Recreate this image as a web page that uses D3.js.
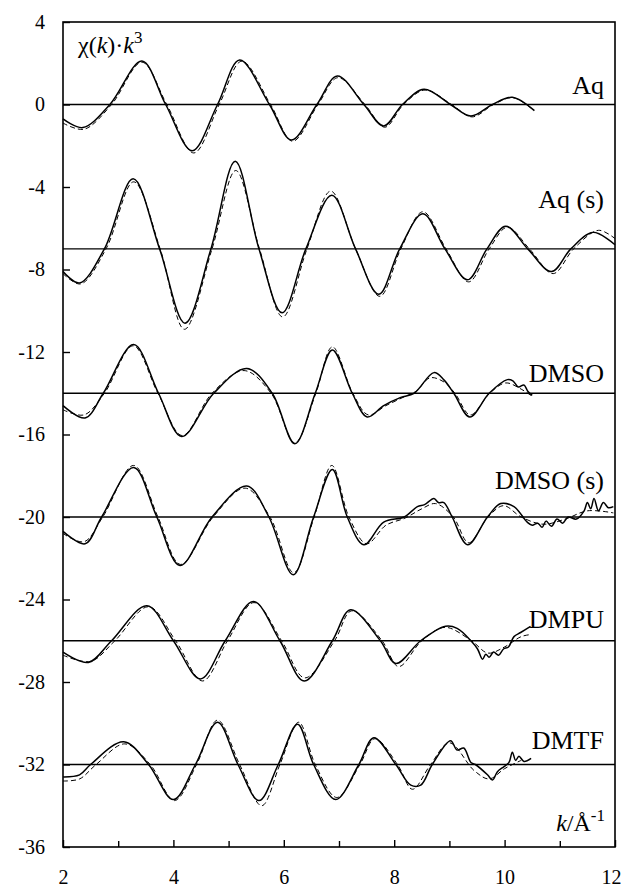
<!DOCTYPE html>
<html>
<head>
<meta charset="utf-8">
<script src="https://cdnjs.cloudflare.com/ajax/libs/d3/7.8.5/d3.min.js"></script>
<style>
  body { margin: 0; background: #fff; }
  svg text { font-family: "Liberation Serif", "DejaVu Serif", serif; fill: #000; }
</style>
</head>
<body>
<div class="chart"></div>
<script>
var names = ["Aq", "Aq (s)", "DMSO", "DMSO (s)", "DMPU", "DMTF"];
var baselines = [0, -7, -14, -20, -26, -32];
var xTicks = [2, 4, 6, 8, 10, 12];
var xMinorTicks = [3, 5, 7, 9, 11];
var yTicks = [4, 0, -4, -8, -12, -16, -20, -24, -28, -32, -36];

var aqExp = [[2.0,-0.7],[2.36,-1.12],[2.85,0],[3.43,2.11],[3.86,0],[4.34,-2.24],[4.8,0],[5.2,2.16],[5.74,0],[6.14,-1.72],[6.6,0],[6.97,1.38],[7.45,0],[7.81,-1.04],[8.15,0],[8.54,0.74],[9.02,0],[9.39,-0.56],[9.78,0],[10.14,0.35],[10.54,-0.3]];
var aqFit = [[2.0,-0.9],[2.38,-1.2],[2.88,0],[3.43,2.05],[3.88,0],[4.37,-2.35],[4.83,0],[5.24,2.1],[5.76,0],[6.16,-1.78],[6.62,0],[6.98,1.3],[7.47,0],[7.83,-1.1],[8.17,0],[8.56,0.7],[9.04,0],[9.41,-0.6],[9.8,0],[10.15,0.33],[10.5,-0.22]];

var aqsExp = [[2.0,-8.1],[2.3,-8.65],[2.75,-7],[3.27,-3.6],[3.75,-7],[4.21,-10.6],[4.68,-7],[5.12,-2.75],[5.55,-7],[5.97,-10.1],[6.4,-7],[6.87,-4.4],[7.3,-7],[7.72,-9.2],[8.1,-7],[8.52,-5.3],[8.92,-7],[9.33,-8.5],[9.68,-7],[10.02,-5.9],[10.42,-7],[10.85,-8.1],[11.2,-7],[11.6,-6.2],[12.0,-6.8]];
var aqsFit = [[2.0,-8.2],[2.32,-8.7],[2.78,-7],[3.28,-3.75],[3.76,-7],[4.2,-10.9],[4.7,-7],[5.13,-3.2],[5.56,-7],[5.98,-10.3],[6.42,-7],[6.85,-4.2],[7.3,-7],[7.74,-9.3],[8.12,-7],[8.52,-5.2],[8.94,-7],[9.35,-8.6],[9.72,-7],[10.05,-5.95],[10.45,-7],[10.88,-8.2],[11.25,-7],[11.7,-6.1],[12.0,-6.5]];

var dmsoExp = [[2.0,-14.6],[2.4,-15.2],[2.73,-14],[3.28,-11.64],[3.73,-14],[4.15,-16.1],[4.73,-14],[5.33,-12.8],[5.79,-14],[6.2,-16.45],[6.57,-14],[6.88,-11.9],[7.24,-14],[7.51,-15.15],[7.81,-14.6],[8.12,-14.2],[8.36,-14],[8.72,-13.0],[8.9,-13.35],[9.08,-14],[9.37,-15.15],[9.72,-14],[10.05,-13.34],[10.15,-13.4],[10.25,-13.7],[10.35,-13.6],[10.42,-13.9],[10.5,-14.1]];
var dmsoFit = [[2.0,-14.8],[2.38,-15.05],[2.75,-14],[3.27,-11.7],[3.72,-14],[4.16,-16.05],[4.7,-14],[5.28,-12.9],[5.77,-14],[6.2,-16.4],[6.58,-14],[6.88,-11.75],[7.25,-14],[7.53,-15.05],[7.85,-14.6],[8.2,-14.15],[8.4,-13.9],[8.65,-13.25],[8.9,-13.45],[9.1,-14],[9.38,-15.05],[9.73,-14],[10.02,-13.5],[10.3,-13.8],[10.5,-14.15]];

var dmsosExp = [[2.0,-20.7],[2.4,-21.3],[2.7,-20],[3.28,-17.6],[3.7,-20],[4.12,-22.35],[4.7,-20],[5.33,-18.5],[5.73,-20],[6.17,-22.8],[6.54,-20],[6.88,-17.7],[7.15,-20],[7.45,-21.35],[7.81,-20.25],[8.18,-20.0],[8.42,-19.5],[8.55,-19.4],[8.72,-19.1],[8.8,-19.3],[8.9,-19.3],[9.05,-20],[9.33,-21.35],[9.69,-20],[9.93,-19.35],[10.17,-19.5],[10.41,-20.25],[10.5,-20.4],[10.6,-20.3],[10.68,-20.5],[10.75,-20.2],[10.85,-20.45],[10.95,-20.1],[11.05,-20.3],[11.15,-20.0],[11.3,-20.1],[11.44,-19.7],[11.5,-19.3],[11.56,-19.6],[11.62,-19.1],[11.7,-19.7],[11.79,-19.3],[11.88,-19.55],[11.97,-19.5]];
var dmsosFit = [[2.0,-20.8],[2.38,-21.2],[2.72,-20],[3.28,-17.5],[3.72,-20],[4.13,-22.3],[4.72,-20],[5.3,-18.6],[5.75,-20],[6.18,-22.7],[6.55,-20],[6.87,-17.5],[7.18,-20],[7.5,-21.3],[7.85,-20.4],[8.2,-20.05],[8.5,-19.6],[8.75,-19.35],[9.07,-20],[9.35,-21.25],[9.7,-20],[9.98,-19.45],[10.3,-20.0],[10.7,-20.35],[11.1,-20.1],[11.5,-19.7],[11.97,-19.8]];

var dmpuExp = [[2.0,-26.55],[2.46,-27.05],[2.88,-26],[3.52,-24.3],[4.0,-26],[4.49,-27.85],[4.94,-26],[5.45,-24.1],[5.93,-26],[6.37,-27.95],[6.88,-26],[7.21,-24.5],[7.75,-26],[8.03,-27.1],[8.48,-26],[8.93,-25.3],[9.14,-25.4],[9.39,-26],[9.51,-26.4],[9.6,-26.9],[9.66,-26.65],[9.72,-26.8],[9.8,-26.55],[9.89,-26.7],[9.98,-26.4],[10.07,-26.3],[10.17,-25.8],[10.29,-25.6],[10.47,-25.3]];
var dmpuFit = [[2.0,-26.7],[2.5,-27.0],[2.94,-26],[3.55,-24.35],[4.04,-26],[4.53,-27.95],[4.98,-26],[5.46,-24.15],[5.96,-26],[6.38,-27.8],[6.92,-26],[7.23,-24.55],[7.78,-26],[8.08,-27.25],[8.5,-26],[8.92,-25.35],[9.4,-26],[9.7,-26.6],[10.0,-26.3],[10.3,-25.8],[10.47,-25.7]];

var dmtfExp = [[2.0,-32.6],[2.3,-32.5],[2.5,-32.0],[3.1,-30.9],[3.55,-32],[4.0,-33.7],[4.4,-32],[4.8,-29.95],[5.17,-32],[5.55,-33.75],[5.9,-32],[6.25,-30.05],[6.54,-32],[6.94,-33.7],[7.36,-32],[7.63,-30.7],[8.03,-32],[8.3,-33.0],[8.48,-33.0],[8.69,-32],[9.02,-30.85],[9.14,-31.3],[9.26,-31.2],[9.39,-31.9],[9.47,-32],[9.69,-32.5],[9.78,-32.75],[9.87,-32.35],[9.99,-32.1],[10.08,-31.9],[10.14,-31.4],[10.2,-31.8],[10.26,-31.6],[10.35,-31.85],[10.48,-31.7]];
var dmtfFit = [[2.0,-32.8],[2.3,-32.7],[2.6,-32],[3.12,-31.0],[3.58,-32],[4.02,-33.75],[4.42,-32],[4.8,-29.85],[5.2,-32],[5.6,-34.0],[5.93,-32],[6.27,-29.95],[6.57,-32],[6.96,-33.6],[7.38,-32],[7.65,-30.75],[8.06,-32],[8.33,-33.2],[8.66,-32],[9.0,-30.95],[9.45,-32.3],[9.72,-32.7],[10.0,-32.2],[10.3,-31.8]];

var expSeries = [aqExp, aqsExp, dmsoExp, dmsosExp, dmpuExp, dmtfExp];
var fitSeries = [aqFit, aqsFit, dmsoFit, dmsosFit, dmpuFit, dmtfFit];

// chart setup
var svgWidth = 621;
var svgHeight = 890;
var margin = {top: 22, right: 6, bottom: 43, left: 63};
var width = svgWidth - margin.left - margin.right;
var height = svgHeight - margin.top - margin.bottom;

var svg = d3.select(".chart")
    .append("svg")
    .attr("width", svgWidth)
    .attr("height", svgHeight)
    .append("g")
    .attr("transform", "translate(" + margin.left + "," + margin.top + ")");

var xScale = d3.scaleLinear().domain([2, 12]).range([0, width]);
var yScale = d3.scaleLinear().domain([-36, 4]).range([height, 0]);

// baselines
svg.selectAll(".base")
    .data(baselines)
    .enter()
    .append("line")
    .attr("x1", 0)
    .attr("x2", width)
    .attr("y1", function(d) { return yScale(d); })
    .attr("y2", function(d) { return yScale(d); })
    .style("stroke", "#000")
    .style("stroke-width", 1.4);

var line = d3.line()
    .x(function(d) { return xScale(d[0]); })
    .y(function(d) { return yScale(d[1]); })
    .curve(d3.curveCatmullRom.alpha(0.5));

svg.selectAll(".fit")
    .data(fitSeries)
    .enter()
    .append("path")
    .attr("d", line)
    .style("fill", "none")
    .style("stroke", "#000")
    .style("stroke-width", 1)
    .style("stroke-dasharray", "5,3");

svg.selectAll(".exp")
    .data(expSeries)
    .enter()
    .append("path")
    .attr("d", line)
    .style("fill", "none")
    .style("stroke", "#000")
    .style("stroke-width", 1.5);

// frame
svg.append("rect")
    .attr("width", width)
    .attr("height", height)
    .style("fill", "none")
    .style("stroke", "#000")
    .style("stroke-width", 1.6);

// axes with inward ticks
var plain = function(d) { return String(d); };
var bottomAxis = d3.axisBottom(xScale).tickValues(xTicks).tickSize(-7).tickPadding(23).tickFormat(plain);
var bottomMinor = d3.axisBottom(xScale).tickValues(xMinorTicks).tickSize(-6).tickFormat("");
var leftAxis = d3.axisLeft(yScale).tickValues(yTicks).tickSize(-7).tickPadding(18).tickFormat(plain);

function styleAxis(g) {
    g.select(".domain").remove();
    g.attr("font-family", null);
    g.selectAll("line").style("stroke", "#000").style("stroke-width", 1.4);
    g.selectAll("text").style("font-size", "20px");
}

var xAxisG = svg.append("g").attr("transform", "translate(0," + height + ")").call(bottomAxis).call(styleAxis);
// the last label sits against the page edge
xAxisG.selectAll(".tick text")
    .filter(function(d) { return d === 12; })
    .attr("text-anchor", "end")
    .attr("x", margin.right);
svg.append("g").attr("transform", "translate(0," + height + ")").call(bottomMinor).call(styleAxis);
svg.append("g").call(leftAxis).call(styleAxis);

// series labels
var labelDy = [-10.5, -41, -11, -28.5, -13, -16];
svg.selectAll(".name")
    .data(names)
    .enter()
    .append("text")
    .attr("x", xScale(11.8))
    .attr("y", function(d, i) { return yScale(baselines[i]) + labelDy[i]; })
    .attr("text-anchor", "end")
    .style("font-size", "26px")
    .text(function(d) { return d; });

// y-axis title
var yt = svg.append("text")
    .attr("x", 15)
    .attr("y", 31)
    .style("font-size", "24px");
yt.append("tspan").text("\u03c7(");
yt.append("tspan").style("font-style", "italic").text("k");
yt.append("tspan").text(")\u00b7");
yt.append("tspan").style("font-style", "italic").text("k");
yt.append("tspan").attr("dy", -10).style("font-size", "17px").text("3");

// x-axis title
var xt = svg.append("text")
    .attr("x", width - 10)
    .attr("y", height - 16)
    .attr("text-anchor", "end")
    .style("font-size", "24px");
xt.append("tspan").style("font-style", "italic").text("k");
xt.append("tspan").text("/\u00c5");
xt.append("tspan").attr("dy", -10).style("font-size", "17px").text("-1");
</script>
</body>
</html>
